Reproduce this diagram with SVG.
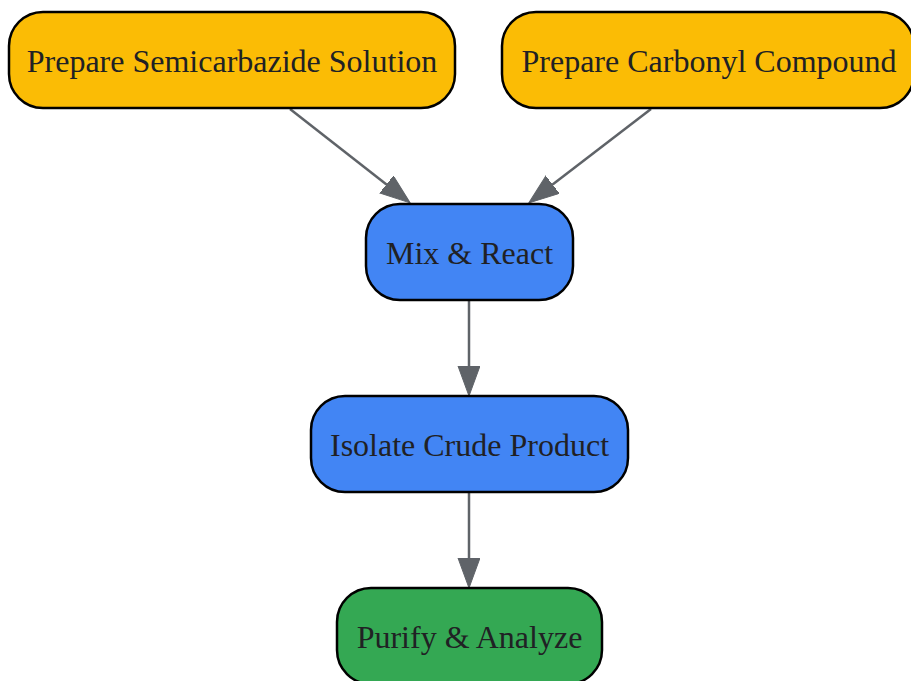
<svg xmlns="http://www.w3.org/2000/svg" width="911" height="681" viewBox="0 0 911 681">
<style>
.node rect{stroke:#000;stroke-width:2.5}
.yellow{fill:#FBBC05}
.blue{fill:#4285F4}
.green{fill:#34A853}
.node text{font-family:"Liberation Serif","Times New Roman",serif;font-size:32px;fill:#202124;text-anchor:middle}
.edge{stroke:#5F6368;stroke-width:2.5;fill:none;marker-end:url(#arrow)}
</style>
<defs>
<marker id="arrow" markerUnits="userSpaceOnUse" markerWidth="31" markerHeight="23" refX="0" refY="11" orient="auto" viewBox="0 0 31 23">
<path d="M0,0 L30,11 L0,22 z" fill="#5F6368" stroke="#5F6368" stroke-width="1"/>
</marker>
</defs>
<rect width="911" height="681" fill="#fff"/>
<g id="edges">
<line class="edge" x1="290" y1="109" x2="386.5" y2="184.4"/>
<line class="edge" x1="651" y1="109" x2="552.6" y2="184.6"/>
<line class="edge" x1="469" y1="301" x2="469" y2="366"/>
<line class="edge" x1="469" y1="493" x2="469" y2="558"/>
</g>
<g id="n1" class="node"><rect class="yellow" x="9" y="12" width="446" height="96" rx="34"/><text x="232" y="72">Prepare Semicarbazide Solution</text></g>
<g id="n2" class="node"><rect class="yellow" x="502" y="12" width="412" height="96" rx="34"/><text x="709" y="72">Prepare Carbonyl Compound</text></g>
<g id="n3" class="node"><rect class="blue" x="366" y="204" width="207" height="96" rx="34"/><text x="469.5" y="264">Mix &amp; React</text></g>
<g id="n4" class="node"><rect class="blue" x="311" y="396" width="317" height="96" rx="34"/><text x="469.5" y="456">Isolate Crude Product</text></g>
<g id="n5" class="node"><rect class="green" x="337" y="588" width="265" height="96" rx="34"/><text x="469.5" y="648">Purify &amp; Analyze</text></g>
</svg>
